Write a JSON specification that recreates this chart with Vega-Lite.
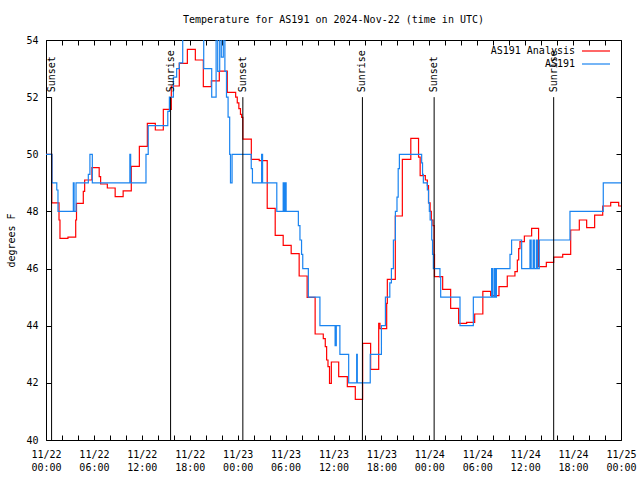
{
  "$schema": "https://vega.github.io/schema/vega-lite/v6.json",
  "width": 575,
  "height": 400,
  "autosize": {"type": "none"},
  "padding": {"left": 46, "top": 40, "right": 19, "bottom": 40},
  "background": "white",
  "title": {"text": "Temperature for AS191 on 2024-Nov-22 (time in UTC)", "font": "DejaVu Sans Mono", "fontSize": 10, "fontWeight": "normal", "color": "black", "anchor": "middle", "baseline": "alphabetic", "offset": 2},
  "config": {
    "view": {"stroke": "black", "strokeWidth": 1},
    "axis": {"labelFont": "DejaVu Sans Mono", "labelFontSize": 10, "labelColor": "black", "titleFont": "DejaVu Sans Mono", "titleFontSize": 10, "titleFontWeight": "normal", "titleColor": "black", "tickColor": "black", "tickWidth": 1, "domain": false, "grid": false, "tickSize": -5, "labelFlush": false, "labelOverlap": false, "labelBound": false},
    "legend": {"orient": "none", "legendX": 545, "legendY": 6, "symbolType": "M-4,0H4", "symbolSize": 49, "symbolStrokeWidth": 1.2, "labelFont": "DejaVu Sans Mono", "labelFontSize": 10, "labelColor": "black", "labelAlign": "right", "labelOffset": -26, "rowPadding": 3, "padding": 0}
  },
  "datasets": {
    "analysis": [
      {"h":0,"t":50.0},{"h":0.72,"t":48.3},{"h":1.63,"t":47.7},{"h":1.75,"t":47.06},{"h":2.75,"t":47.1},{"h":3.72,"t":47.7},{"h":3.82,"t":48.28},{"h":4.67,"t":48.7},{"h":4.84,"t":49.1},{"h":5.75,"t":49.53},{"h":6.66,"t":49.22},{"h":6.84,"t":48.96},{"h":7.68,"t":48.82},{"h":8.66,"t":48.52},{"h":9.66,"t":48.72},{"h":10.68,"t":49.58},{"h":11.69,"t":50.28},{"h":12.69,"t":51.08},{"h":13.69,"t":50.85},{"h":14.69,"t":51.57},{"h":15.69,"t":52.39},{"h":16.69,"t":53.18},{"h":17.7,"t":53.67},{"h":18.7,"t":53.3},{"h":19.7,"t":52.37},{"h":20.7,"t":52.57},{"h":21.7,"t":52.91},{"h":22.7,"t":52.17},{"h":23.75,"t":52.0},{"h":23.95,"t":51.8},{"h":24.15,"t":51.6},{"h":24.35,"t":51.4},{"h":24.5,"t":51.29},{"h":24.65,"t":50.53},{"h":25.71,"t":49.82},{"h":26.7,"t":49.78},{"h":27.7,"t":48.11},{"h":28.7,"t":47.16},{"h":29.7,"t":46.81},{"h":30.7,"t":46.52},{"h":31.7,"t":45.74},{"h":32.7,"t":44.99},{"h":33.7,"t":43.71},{"h":34.72,"t":43.55},{"h":34.97,"t":43.27},{"h":35.14,"t":42.8},{"h":35.31,"t":42.57},{"h":35.5,"t":41.98},{"h":35.73,"t":42.73},{"h":36.65,"t":42.22},{"h":37.73,"t":41.87},{"h":38.73,"t":41.42},{"h":39.65,"t":43.38},{"h":40.65,"t":42.47},{"h":41.66,"t":44.08},{"h":41.82,"t":43.9},{"h":42.66,"t":44.78},{"h":42.74,"t":45.62},{"h":43.74,"t":47.84},{"h":44.62,"t":49.82},{"h":45.68,"t":50.56},{"h":46.65,"t":49.9},{"h":46.85,"t":49.25},{"h":47.5,"t":49.1},{"h":47.75,"t":48.9},{"h":47.9,"t":48.3},{"h":48.1,"t":48.0},{"h":48.25,"t":47.7},{"h":48.45,"t":47.5},{"h":48.6,"t":46.5},{"h":48.65,"t":45.72},{"h":49.67,"t":45.27},{"h":50.67,"t":44.61},{"h":51.67,"t":44.08},{"h":52.67,"t":44.12},{"h":53.68,"t":44.41},{"h":54.7,"t":45.2},{"h":55.68,"t":45.05},{"h":56.72,"t":45.37},{"h":57.76,"t":45.74},{"h":58.72,"t":45.89},{"h":59.02,"t":46.3},{"h":59.19,"t":46.7},{"h":59.35,"t":46.94},{"h":59.9,"t":47.14},{"h":60.81,"t":47.41},{"h":61.68,"t":46.07},{"h":62.65,"t":46.22},{"h":63.57,"t":46.4},{"h":64.7,"t":46.5},{"h":65.7,"t":47.35},{"h":66.78,"t":47.7},{"h":67.7,"t":47.43},{"h":68.7,"t":47.87},{"h":69.71,"t":48.19},{"h":70.71,"t":48.32},{"h":71.71,"t":48.19},{"h":72,"t":48.19}
    ],
    "obs": [
      {"h":0,"t":50},{"h":0.75,"t":49},{"h":1.35,"t":48.75},{"h":1.5,"t":48},{"h":3.42,"t":49},{"h":3.52,"t":48},{"h":3.76,"t":49},{"h":5.3,"t":49.3},{"h":5.5,"t":50},{"h":5.8,"t":49},{"h":10.5,"t":50},{"h":10.6,"t":49},{"h":12.52,"t":50},{"h":12.8,"t":51},{"h":15.25,"t":51.5},{"h":15.45,"t":52},{"h":15.95,"t":52.7},{"h":16.36,"t":53},{"h":16.7,"t":53.2},{"h":17.12,"t":55},{"h":19.75,"t":53},{"h":20.75,"t":52},{"h":21.3,"t":55},{"h":21.5,"t":52.9},{"h":21.75,"t":55},{"h":21.95,"t":53.4},{"h":22.2,"t":55},{"h":22.4,"t":52.9},{"h":22.6,"t":52},{"h":22.8,"t":51.3},{"h":23.0,"t":50},{"h":23.1,"t":49},{"h":23.3,"t":50},{"h":25.7,"t":49.5},{"h":25.85,"t":49},{"h":27.0,"t":50},{"h":27.12,"t":49},{"h":28.9,"t":48},{"h":29.7,"t":49},{"h":29.82,"t":48},{"h":29.95,"t":49},{"h":30.07,"t":48},{"h":31.6,"t":47.5},{"h":31.8,"t":47},{"h":32.0,"t":46.5},{"h":32.15,"t":46},{"h":32.85,"t":45},{"h":34.3,"t":44},{"h":36.2,"t":43.3},{"h":36.35,"t":44},{"h":36.8,"t":43},{"h":37.9,"t":42},{"h":38.9,"t":43},{"h":38.98,"t":42},{"h":40.6,"t":43},{"h":42.0,"t":44},{"h":42.5,"t":45},{"h":43.05,"t":45.5},{"h":43.25,"t":46},{"h":43.5,"t":47},{"h":43.75,"t":48},{"h":43.95,"t":48.5},{"h":44.1,"t":49.5},{"h":44.25,"t":50},{"h":47.04,"t":49.7},{"h":47.15,"t":49.3},{"h":47.25,"t":49.0},{"h":47.75,"t":48.75},{"h":47.9,"t":48.3},{"h":48.0,"t":48.0},{"h":48.1,"t":47.7},{"h":48.3,"t":47.0},{"h":48.4,"t":46.5},{"h":48.5,"t":46.0},{"h":49.33,"t":45.7},{"h":49.42,"t":45},{"h":51.84,"t":44},{"h":53.51,"t":45},{"h":55.8,"t":46},{"h":55.95,"t":45},{"h":56.15,"t":46},{"h":56.3,"t":45},{"h":56.4,"t":46},{"h":58.1,"t":46.5},{"h":58.3,"t":47},{"h":59.56,"t":46},{"h":60.6,"t":47},{"h":60.75,"t":46},{"h":61.0,"t":47},{"h":61.15,"t":46},{"h":61.4,"t":47},{"h":61.55,"t":46},{"h":61.77,"t":47},{"h":65.61,"t":48},{"h":69.78,"t":49},{"h":72,"t":49}
    ],
    "sun": [
      {"h":0.7,"event":"Sunset"},{"h":15.6,"event":"Sunrise"},{"h":24.65,"event":"Sunset"},{"h":39.62,"event":"Sunrise"},{"h":48.6,"event":"Sunset"},{"h":63.57,"event":"Sunrise"}
    ]
  },
  "resolve": {"axis": {"x": "independent", "y": "independent"}},
  "layer": [
    {
      "data": {"name": "analysis"},
      "mark": {"type": "line", "interpolate": "step-after", "clip": true, "strokeWidth": 1.2},
      "encoding": {
        "x": {"field": "h", "type": "quantitative", "scale": {"domain": [0, 72], "nice": false, "zero": false},
              "axis": {"orient": "bottom", "title": null, "values": [0,2,4,6,8,10,12,14,16,18,20,22,24,26,28,30,32,34,36,38,40,42,44,46,48,50,52,54,56,58,60,62,64,66,68,70,72],
                       "labelExpr": "datum.value % 6 == 0 ? ['11/' + (22 + floor(datum.value / 24)), format(datum.value % 24, '02d') + ':00'] : ''",
                       "labelBaseline": "top", "labelLineHeight": 13, "labelPadding": 14}},
        "y": {"field": "t", "type": "quantitative", "scale": {"domain": [40, 54], "nice": false, "zero": false},
              "axis": {"orient": "left", "title": "degrees F", "values": [40,42,44,46,48,50,52,54], "labelPadding": 13, "titlePadding": 9}},
        "color": {"datum": "AS191 Analysis", "type": "nominal", "scale": {"domain": ["AS191 Analysis", "AS191"], "range": ["#ff0000", "#1a84f0"]}, "legend": {"title": null}}
      }
    },
    {
      "data": {"name": "obs"},
      "mark": {"type": "line", "interpolate": "step-after", "clip": true, "strokeWidth": 1.2},
      "encoding": {
        "x": {"field": "h", "type": "quantitative", "axis": null},
        "y": {"field": "t", "type": "quantitative", "axis": null},
        "color": {"datum": "AS191", "type": "nominal"}
      }
    },
    {
      "data": {"name": "sun"},
      "mark": {"type": "rule", "color": "black", "strokeWidth": 1},
      "encoding": {
        "x": {"field": "h", "type": "quantitative",
              "axis": {"orient": "top", "title": null, "labels": false, "values": [0,2,4,6,8,10,12,14,16,18,20,22,24,26,28,30,32,34,36,38,40,42,44,46,48,50,52,54,56,58,60,62,64,66,68,70,72]}},
        "y": {"datum": 52, "type": "quantitative",
              "axis": {"orient": "right", "title": null, "labels": false, "values": [40,42,44,46,48,50,52,54]}},
        "y2": {"datum": 40}
      }
    },
    {
      "data": {"name": "sun"},
      "mark": {"type": "text", "angle": 270, "align": "left", "baseline": "middle", "font": "DejaVu Sans Mono", "fontSize": 10, "color": "black"},
      "encoding": {
        "x": {"field": "h", "type": "quantitative", "axis": null},
        "y": {"datum": 52.17, "type": "quantitative", "axis": null},
        "text": {"field": "event"}
      }
    }
  ]
}
